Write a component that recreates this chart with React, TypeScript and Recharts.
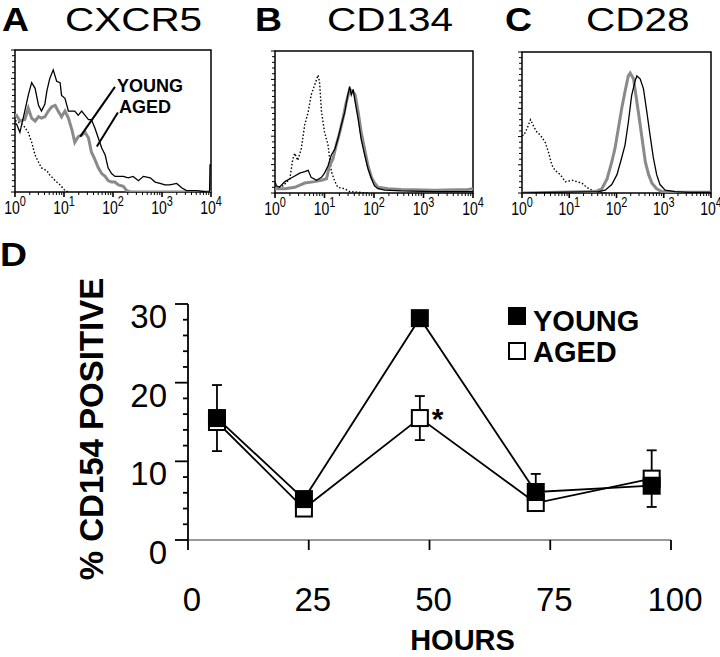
import React from 'react';
import {
  LineChart,
  Line,
  XAxis,
  YAxis,
  ReferenceArea,
  ReferenceLine,
  ErrorBar,
  LabelList,
} from 'recharts';

const FONT = '"Liberation Sans", Arial, Helvetica, sans-serif';
const GRAY = '#8a8a8a';

// Histograms: [log10 fluorescence, % of panel height]
const A_YOUNG: [number, number][] = [
  [0, 48], [0.03, 48], [0.1, 42], [0.2, 57], [0.27, 68], [0.34, 77], [0.41, 73], [0.48, 61],
  [0.54, 57], [0.61, 62], [0.65, 71], [0.71, 80], [0.78, 86], [0.85, 78], [0.92, 77], [0.95, 68],
  [1.02, 66], [1.09, 57], [1.16, 57], [1.22, 57], [1.29, 54], [1.36, 57], [1.43, 54], [1.5, 51],
  [1.56, 51], [1.63, 45], [1.7, 38], [1.77, 31], [1.84, 26], [1.9, 17], [1.97, 13], [2.04, 11],
  [2.11, 11], [2.21, 11], [2.31, 10], [2.41, 11], [2.52, 8], [2.62, 11], [2.76, 10], [2.86, 7],
  [2.96, 6], [3.06, 5], [3.16, 5], [3.3, 6], [3.4, 3], [3.5, 1], [3.71, 1], [3.91, 0], [3.97, 0],
  [3.98, 19], [4, 19],
];
const A_AGED: [number, number][] = [
  [0, 54], [0.03, 54], [0.1, 50], [0.2, 51], [0.27, 59], [0.34, 52], [0.41, 50], [0.48, 53],
  [0.54, 52], [0.61, 53], [0.68, 57], [0.75, 60], [0.82, 61], [0.88, 57], [0.95, 53], [1.02, 57],
  [1.09, 52], [1.16, 44], [1.22, 35], [1.29, 39], [1.36, 40], [1.43, 42], [1.5, 38], [1.56, 28],
  [1.63, 23], [1.7, 17], [1.77, 13], [1.84, 11], [1.9, 8], [1.97, 7], [2.04, 7], [2.11, 5],
  [2.21, 4], [2.28, 1], [2.35, 0], [4, 0],
];
const A_CONTROL: [number, number][] = [
  [0, 50], [0.03, 50], [0.17, 47], [0.27, 42], [0.34, 35], [0.41, 26], [0.48, 21], [0.54, 17],
  [0.65, 15], [0.71, 12], [0.82, 8], [0.92, 5], [1.02, 1], [1.09, 0],
];

const B_YOUNG: [number, number][] = [
  [0, 8], [0.03, 5], [0.09, 4], [0.2, 8], [0.3, 10], [0.4, 12], [0.5, 14], [0.6, 15], [0.67, 16],
  [0.73, 11], [0.84, 9], [0.94, 11], [1.0, 14], [1.07, 19], [1.14, 27], [1.21, 31], [1.27, 38],
  [1.34, 48], [1.41, 57], [1.47, 69], [1.51, 75], [1.54, 69], [1.58, 73], [1.61, 66], [1.68, 52],
  [1.74, 38], [1.81, 27], [1.88, 17], [1.95, 10], [2.01, 5], [2.08, 3], [2.22, 2], [2.55, 1.5],
  [3.23, 1], [3.9, 1], [4, 1],
];
const B_AGED: [number, number][] = [
  [0, 3], [0.2, 3], [0.4, 4], [0.6, 7], [0.8, 8], [0.94, 9], [1.04, 10], [1.1, 19], [1.17, 24],
  [1.24, 34], [1.31, 43], [1.37, 52], [1.44, 64], [1.51, 73], [1.58, 71], [1.62, 69], [1.68, 57],
  [1.74, 43], [1.81, 31], [1.88, 19], [1.95, 11], [2.01, 7], [2.08, 4], [2.28, 3], [2.55, 2.5],
  [3.23, 2], [3.9, 2.5], [4, 3],
];
const B_CONTROL: [number, number][] = [
  [0, 4], [0.03, 4], [0.16, 5], [0.3, 10], [0.36, 24], [0.4, 28], [0.46, 23], [0.53, 31],
  [0.6, 48], [0.67, 57], [0.73, 69], [0.8, 76], [0.87, 83], [0.9, 78], [0.94, 57], [1.0, 43],
  [1.07, 34], [1.14, 15], [1.21, 8], [1.27, 4], [1.41, 3], [1.51, 1], [1.88, 0],
];

const C_YOUNG: [number, number][] = [
  [0, 0], [1.62, 1], [1.76, 2], [1.9, 6], [2.01, 13], [2.11, 25], [2.18, 34], [2.25, 50],
  [2.32, 69], [2.39, 79], [2.43, 83], [2.5, 81], [2.57, 74], [2.64, 58], [2.71, 41], [2.78, 25],
  [2.85, 13], [2.92, 6], [3.03, 2], [3.24, 1], [3.52, 0.5], [4, 0.5],
];
const C_AGED: [number, number][] = [
  [0, 0], [1.55, 1], [1.69, 3], [1.8, 10], [1.9, 22], [1.97, 32], [2.04, 46], [2.11, 60],
  [2.18, 72], [2.25, 83], [2.29, 85], [2.36, 81], [2.39, 74], [2.46, 58], [2.54, 39], [2.61, 22],
  [2.68, 13], [2.75, 7], [2.85, 3], [2.96, 1], [3.24, 0.5], [4, 0.5],
];
const C_CONTROL: [number, number][] = [
  [0, 41], [0.04, 41], [0.11, 46], [0.18, 52], [0.25, 47], [0.32, 43], [0.39, 41], [0.49, 36],
  [0.56, 29], [0.63, 20], [0.7, 16], [0.81, 13], [0.92, 8], [1.06, 9], [1.16, 8], [1.27, 7],
  [1.37, 4], [1.48, 2], [1.62, 1], [1.76, 0],
];

const DECADES = [0, 1, 2, 3, 4];
const MINOR_STEPS = [2, 3, 4, 5, 6, 7, 8, 9];
const HIST_Y_TICKS = [0, 4, 8, 12, 16, 20, 24, 28, 32, 36, 40, 44, 48, 52, 56, 60, 64, 68, 72, 76, 80, 84, 88, 92, 96, 100];

// Panel D
const HOURS = [6, 24, 48, 72, 96];
const YOUNG = [15.5, 5.2, 28.2, 6.1, 6.9];
const YOUNG_ERR = [4.2, 0, 0, 2.3, 0];
const AGED = [15.0, 4.0, 15.5, 4.7, 7.8];
const AGED_ERR = [0, 0, 2.8, 0, 3.6];
const X_TICKS = [0, 25, 50, 75, 100];
const Y_TICKS = [0, 2, 4, 6, 8, 10, 12, 14, 16, 18, 20, 22, 24, 26, 28, 30];

const LOG_TICKS = [
  ...DECADES,
  ...DECADES.slice(0, 4).flatMap((d) => MINOR_STEPS.map((k) => d + Math.log10(k))),
].sort((a, b) => a - b);

const rows = (pts: [number, number][]) => pts.map(([x, y]) => ({ x, y }));

function LogTick(props: any) {
  const { x, y, payload } = props;
  const v = payload.value;
  const major = Math.abs(v - Math.round(v)) < 1e-6;
  return (
    <g>
      <line x1={x} x2={x} y1={y} y2={y + (major ? 5 : 3)} stroke="#000" strokeWidth={major ? 1.6 : 1} />
      {major && (
        <g transform={`translate(${x},${y + 22}) scale(0.78,1)`}>
          <text textAnchor="middle" fontFamily={FONT} fontSize={18} fill="#000">
            10
            <tspan fontSize={14} dy={-8}>{Math.round(v)}</tspan>
          </text>
        </g>
      )}
    </g>
  );
}

function HistYTick(props: any) {
  const { x, y, payload } = props;
  const major = payload.value % 20 === 0;
  return <line x1={x} x2={x - (major ? 4 : 3)} y1={y} y2={y} stroke="#000" strokeWidth={1} />;
}

interface HistProps {
  left: number;
  top: number;
  width: number;
  height: number;
  young: [number, number][];
  aged: [number, number][];
  control: [number, number][];
  children?: React.ReactNode;
}

function Histogram({ left, top, width, height, young, aged, control, children }: HistProps) {
  const right = Math.min(16, 720 - (left + width));
  return (
    <div style={{ position: 'absolute', left: left - 15, top: top - 10 }}>
      <LineChart
        width={width + 15 + right}
        height={height + 40}
        margin={{ top: 10, right, left: 0, bottom: 0 }}
      >
        <XAxis
          type="number"
          dataKey="x"
          domain={[0, 4]}
          ticks={LOG_TICKS}
          interval={0}
          tick={<LogTick />}
          tickSize={0}
          tickMargin={0}
          tickLine={false}
          axisLine={false}
          height={30}
          allowDataOverflow
        />
        <YAxis
          type="number"
          domain={[0, 100]}
          ticks={HIST_Y_TICKS}
          interval={0}
          tick={<HistYTick />}
          tickSize={0}
          tickMargin={0}
          tickLine={false}
          axisLine={false}
          width={15}
          allowDataOverflow
        />
        <ReferenceArea x1={0} x2={4} y1={0} y2={100} fill="none" stroke="#000" strokeWidth={1.5} ifOverflow="visible" />
        <Line
          data={rows(control)}
          dataKey="y"
          type="linear"
          stroke="#000"
          strokeWidth={1.4}
          strokeDasharray="1.5 2"
          dot={false}
          isAnimationActive={false}
        />
        <Line
          data={rows(aged)}
          dataKey="y"
          type="linear"
          stroke={GRAY}
          strokeWidth={3}
          dot={false}
          isAnimationActive={false}
        />
        <Line
          data={rows(young)}
          dataKey="y"
          type="linear"
          stroke="#000"
          strokeWidth={1.3}
          dot={false}
          isAnimationActive={false}
        />
        {children}
      </LineChart>
    </div>
  );
}

const dData = HOURS.map((h, i) => ({
  h,
  young: YOUNG[i],
  youngErr: YOUNG_ERR[i],
  aged: AGED[i],
  agedErr: AGED_ERR[i],
}));

function DXTick(props: any) {
  const { x, y, payload } = props;
  return (
    <g>
      <line x1={x} x2={x} y1={y} y2={y + 10} stroke="#000" strokeWidth={1.8} />
      <text x={x + 4} y={y + 71} textAnchor="middle" fontFamily={FONT} fontSize={33} fill="#000">
        {payload.value}
      </text>
    </g>
  );
}

function DYTick(props: any) {
  const { x, y, payload } = props;
  const major = payload.value % 10 === 0;
  return (
    <g>
      <line x1={x} x2={x - (major ? 13 : 5)} y1={y} y2={y} stroke="#000" strokeWidth={1.8} />
      {major && (
        <text x={x - 21} y={y + 24} textAnchor="end" fontFamily={FONT} fontSize={33} fill="#000">
          {payload.value}
        </text>
      )}
    </g>
  );
}

const youngDot = (p: any) => (
  <rect key={`y-${p.index}`} x={p.cx - 9} y={p.cy - 9} width={18} height={18} fill="#000" />
);
const agedDot = (p: any) => (
  <rect key={`a-${p.index}`} x={p.cx - 8} y={p.cy - 8} width={16} height={16} fill="#fff" stroke="#000" strokeWidth={2} />
);

function PanelD() {
  return (
    <div style={{ position: 'absolute', left: 0, top: 240 }}>
      <LineChart width={720} height={417} data={dData} margin={{ top: 64, right: 49, left: 0, bottom: 0 }}>
        <XAxis
          type="number"
          dataKey="h"
          domain={[0, 100]}
          ticks={X_TICKS}
          interval={0}
          tick={<DXTick />}
          tickSize={0}
          tickMargin={0}
          tickLine={false}
          axisLine={{ stroke: '#777', strokeWidth: 1.6 }}
          height={117}
          label={{
            content: (p: any) => {
              const vb = p.viewBox || { x: 188, y: 300, width: 483 };
              return (
                <text
                  x={vb.x + vb.width / 2 + 33}
                  y={vb.y + 110}
                  textAnchor="middle"
                  fontFamily={FONT}
                  fontWeight="bold"
                  fontSize={29}
                  fill="#000"
                >
                  HOURS
                </text>
              );
            },
          }}
        />
        <YAxis
          type="number"
          domain={[0, 30]}
          ticks={Y_TICKS}
          interval={0}
          tick={<DYTick />}
          tickSize={0}
          tickMargin={0}
          tickLine={false}
          axisLine={{ stroke: '#000', strokeWidth: 1.8 }}
          width={188}
          label={{
            content: (p: any) => {
              const vb = p.viewBox || { y: 64, height: 236 };
              return (
                <text
                  transform={`translate(103,${vb.y + vb.height / 2 + 7}) rotate(-90)`}
                  textAnchor="middle"
                  fontFamily={FONT}
                  fontWeight="bold"
                  fontSize={33}
                  fill="#000"
                >
                  % CD154 POSITIVE
                </text>
              );
            },
          }}
        />
        <Line
          dataKey="aged"
          type="linear"
          stroke="#000"
          strokeWidth={1.8}
          dot={agedDot}
          isAnimationActive={false}
        >
          <ErrorBar dataKey="agedErr" width={5} stroke="#000" strokeWidth={1.8} direction="y" />
          <LabelList
            dataKey="aged"
            content={(p: any) =>
              p.index === 2 ? (
                <text x={p.x + 12} y={p.y + 11} fontFamily={FONT} fontWeight="bold" fontSize={30} fill="#000">
                  *
                </text>
              ) : null
            }
          />
        </Line>
        <Line
          dataKey="young"
          type="linear"
          stroke="#000"
          strokeWidth={1.8}
          dot={youngDot}
          isAnimationActive={false}
        >
          <ErrorBar dataKey="youngErr" width={5} stroke="#000" strokeWidth={1.8} direction="y" />
        </Line>
      </LineChart>
    </div>
  );
}

function Letter({ x, y, letter }: { x: number; y: number; letter: string }) {
  return (
    <text transform={`translate(${x},${y}) scale(1.1,1)`} fontFamily={FONT} fontWeight="bold" fontSize={34} fill="#000">
      {letter}
    </text>
  );
}

function Name({ x, y, name }: { x: number; y: number; name: string }) {
  return (
    <text transform={`translate(${x},${y}) scale(1.19,1)`} fontFamily={FONT} fontSize={34} fill="#000">
      {name}
    </text>
  );
}

export default function App() {
  return (
    <div
      style={{
        position: 'absolute',
        left: 0,
        top: 0,
        width: 720,
        height: 657,
        background: '#fff',
        fontFamily: FONT,
        overflow: 'hidden',
      }}
    >
      <Histogram left={15} top={50} width={196} height={142} young={A_YOUNG} aged={A_AGED} control={A_CONTROL}>
        <ReferenceLine segment={[{ x: 2.04, y: 74 }, { x: 1.33, y: 39 }]} stroke="#000" strokeWidth={2} ifOverflow="visible" />
        <ReferenceLine segment={[{ x: 2.1, y: 56 }, { x: 1.67, y: 32 }]} stroke="#000" strokeWidth={2} ifOverflow="visible" />
      </Histogram>
      <Histogram left={275} top={51} width={198} height={142} young={B_YOUNG} aged={B_AGED} control={B_CONTROL} />
      <Histogram left={522} top={52} width={189} height={141} young={C_YOUNG} aged={C_AGED} control={C_CONTROL} />
      <PanelD />
      <svg width={720} height={657} style={{ position: 'absolute', left: 0, top: 0, pointerEvents: 'none' }}>
        <Letter x={2} y={31} letter="A" />
        <Name x={65} y={31} name="CXCR5" />
        <Letter x={255} y={31} letter="B" />
        <Name x={327} y={31} name="CD134" />
        <Letter x={505} y={31} letter="C" />
        <Name x={586} y={31} name="CD28" />
        <Letter x={0} y={266} letter="D" />
        <text x={117} y={92} fontFamily={FONT} fontWeight="bold" fontSize={18} fill="#000">YOUNG</text>
        <text x={119} y={113} fontFamily={FONT} fontWeight="bold" fontSize={18} fill="#000">AGED</text>
        <rect x={508} y={307} width={18} height={18} fill="#000" />
        <text x={533} y={331} fontFamily={FONT} fontWeight="bold" fontSize={29} fill="#000">YOUNG</text>
        <rect x={509} y={343} width={16} height={16} fill="#fff" stroke="#000" strokeWidth={2} />
        <text x={533} y={362} fontFamily={FONT} fontWeight="bold" fontSize={29} fill="#000">AGED</text>
      </svg>
    </div>
  );
}
